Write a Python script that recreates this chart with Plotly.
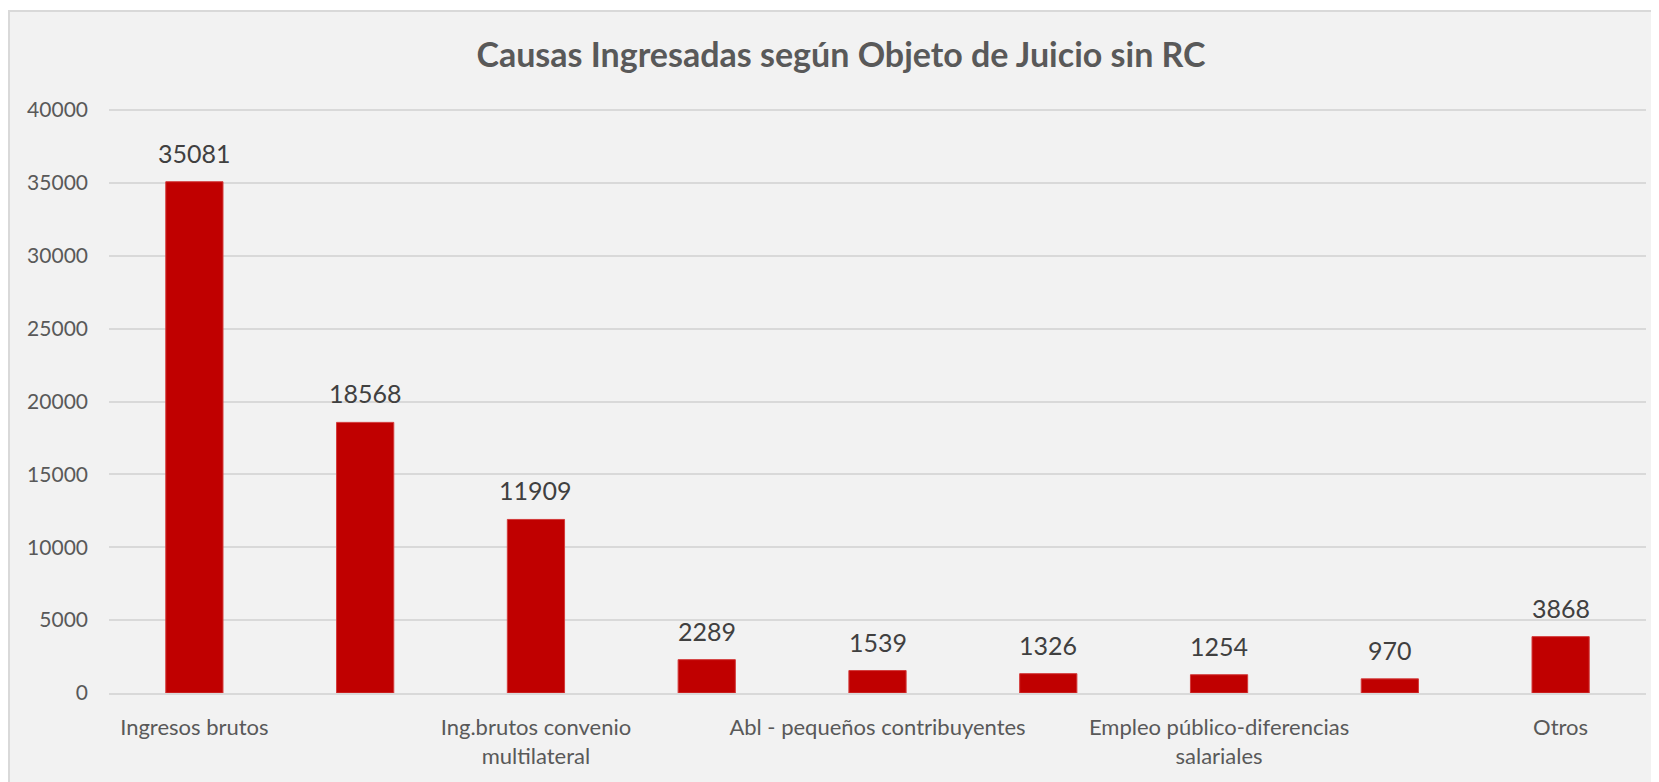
import plotly.graph_objects as go

# Data
categories = [
    "Ingresos brutos",
    "",
    "Ing.brutos convenio multilateral",
    "",
    "Abl - pequeños contribuyentes",
    "",
    "Empleo público-diferencias salariales",
    "",
    "Otros",
]
tick_labels = [
    "Ingresos brutos",
    "",
    "Ing.brutos convenio<br>multilateral",
    "",
    "Abl - pequeños contribuyentes",
    "",
    "Empleo público-diferencias<br>salariales",
    "",
    "Otros",
]
values = [35081, 18568, 11909, 2289, 1539, 1326, 1254, 970, 3868]
y_ticks = [0, 5000, 10000, 15000, 20000, 25000, 30000, 35000, 40000]
title_text = "Causas Ingresadas según Objeto de Juicio sin RC"

x_pos = list(range(len(values)))
shown = [i for i, t in enumerate(tick_labels) if t]

FONT = "Lato"
# page body has an 8px margin; figure sized to fill the rest of the window
W, H = 1651, 774
ML, MR, MT, MB = 101, 13, 100, 89
pw = W - ML - MR
ph = H - MT - MB

fig = go.Figure()
fig.add_trace(go.Bar(
    x=x_pos, y=values,
    marker=dict(color="#C00000", line=dict(color="#d33a3a", width=1)),
    width=0.335,
    hoverinfo="y",
    showlegend=False,
))

for xi, v in zip(x_pos, values):
    fig.add_annotation(
        x=xi, y=v, text=str(v), showarrow=False,
        yanchor="bottom", yshift=12,
        font=dict(family=FONT, size=25, color="#404040"),
    )

# chart box background
fig.add_shape(
    type="rect", xref="paper", yref="paper",
    x0=(1 - ML) / pw, x1=1.05,
    y0=-0.3, y1=(H - MB - 3) / ph,
    fillcolor="#f2f2f2", line=dict(color="#d9d9d9", width=2),
    layer="below",
)

fig.update_layout(
    width=W, height=H,
    margin=dict(l=ML, r=MR, t=MT, b=MB, autoexpand=False),
    paper_bgcolor="white",
    plot_bgcolor="rgba(0,0,0,0)",
    title=dict(
        text=title_text, x=833 / W, xanchor="center",
        y=1 - 47 / H, yanchor="middle",
        font=dict(family=FONT, size=34, color="#595959", weight="bold"),
    ),
    font=dict(family=FONT, color="#595959"),
    xaxis=dict(
        range=[-0.5, len(values) - 0.5],
        tickmode="array",
        tickvals=shown,
        ticktext=[tick_labels[i] for i in shown],
        tickfont=dict(family=FONT, size=22, color="#595959"),
        showgrid=False, zeroline=False,
        showline=True, linecolor="#d9d9d9", linewidth=2,
        ticks="", ticklabelstandoff=14, automargin=False,
        fixedrange=True,
    ),
    yaxis=dict(
        range=[0, 40140],
        tickmode="array", tickvals=y_ticks,
        ticktext=[str(t) for t in y_ticks],
        tickfont=dict(family=FONT, size=21, color="#595959"),
        showgrid=True, gridcolor="#d9d9d9", gridwidth=2,
        zeroline=False, ticks="", ticklabelstandoff=20, automargin=False,
        fixedrange=True,
    ),
)

fig.write_html("out.html")
